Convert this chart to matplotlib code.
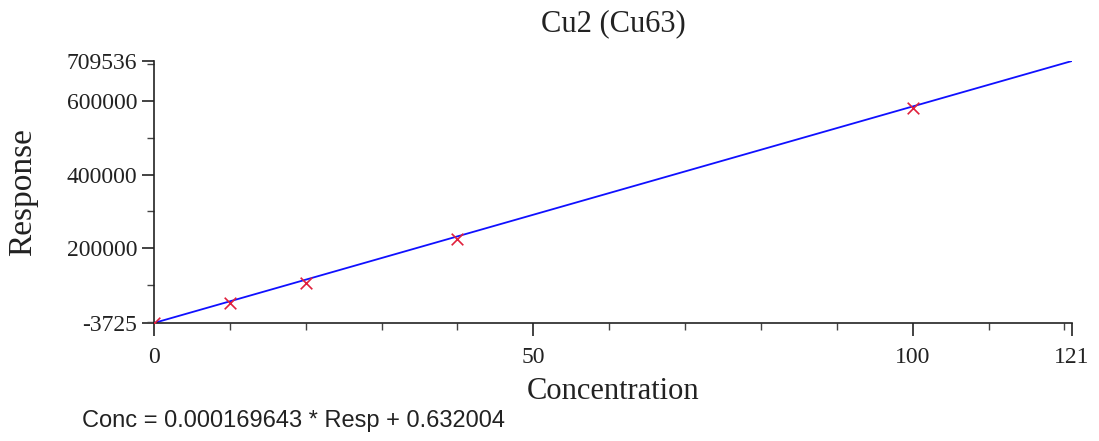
import numpy as np
import matplotlib
matplotlib.use("Agg")
import matplotlib.pyplot as plt
from matplotlib.ticker import MultipleLocator

# calibration points
conc = [0, 10, 20, 40, 100]
resp = [-2500, 50000, 104000, 226000, 581000]

# fitted line: Conc = 0.000169643 * Resp + 0.632004
slope = 0.000169643
offset = 0.632004
x_max = 121
y_min = -3725
y_max = 709536
y_ticks = [-3725, 200000, 400000, 600000, 709536]
x_ticks = [0, 50, 100, 121]

serif = "Liberation Serif"
ink = "#222222"

fig = plt.figure(figsize=(10.99, 4.41), dpi=100)
ax = fig.add_axes([0.1401, 0.2676, 0.8353, 0.5941])

line_x = np.array([0, x_max])
line_y = (line_x - offset) / slope
ax.plot(line_x, line_y, color="#1010ff", lw=1.3, zorder=2)
ax.scatter(conc, resp, marker="x", color="#e0203c", s=70, linewidths=1.2, zorder=3)

ax.set_xlim(0, x_max)
ax.set_ylim(y_min, y_max)
ax.set_xticks(x_ticks)
ax.set_yticks(y_ticks)
ax.set_yticklabels([str(v) for v in y_ticks])
ax.xaxis.set_minor_locator(MultipleLocator(10))
ax.yaxis.set_minor_locator(MultipleLocator(100000))

for s in ["top", "right"]:
    ax.spines[s].set_visible(False)
for s in ["left", "bottom"]:
    ax.spines[s].set_linewidth(1.2)
    ax.spines[s].set_color(ink)

ax.tick_params(which="major", length=9, width=1.2, color=ink, labelsize=17)
ax.tick_params(axis="y", which="major", pad=3)
ax.tick_params(axis="x", which="major", pad=8)
ax.tick_params(which="minor", length=5, width=1.0, color="#444444")
for lab in ax.get_xticklabels() + ax.get_yticklabels():
    lab.set_fontfamily(serif)
    lab.set_color(ink)

ax.set_title("Cu2 (Cu63)", fontfamily=serif, fontsize=22, color=ink, y=1.11, va="center")
ax.set_xlabel("Concentration", fontfamily=serif, fontsize=22, color=ink)
ax.set_ylabel("Response", fontfamily=serif, fontsize=24, color=ink)
ax.xaxis.label.set_va("center")
ax.yaxis.label.set_va("center")
ax.xaxis.set_label_coords(0.5005, -0.26)
ax.yaxis.set_label_coords(-0.1427, 0.5)

fig.text(0.0746, 0.032, "Conc = %g * Resp + %g" % (slope, offset),
         fontfamily="Liberation Sans", fontsize=17, color=ink)

fig.savefig("out.png", dpi=100)
